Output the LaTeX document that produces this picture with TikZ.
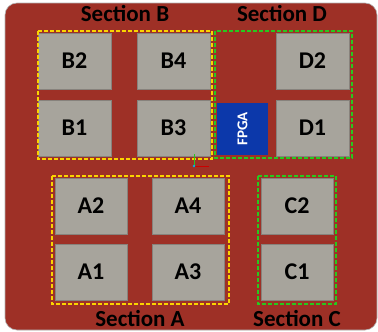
\documentclass[tikz,border=0pt]{standalone}
\usepackage{fontspec}
\setmainfont{Carlito}
\usepackage{tikz}
\usetikzlibrary{arrows.meta,positioning}
\definecolor{RojoPlaca}{RGB}{158,48,38}
\definecolor{GrisTile}{RGB}{167,164,156}
\definecolor{BordeTile}{RGB}{135,130,124}
\definecolor{AzulFPGA}{RGB}{12,56,170}
\definecolor{AmarilloSec}{RGB}{250,212,0}
\definecolor{VerdeSec}{RGB}{40,200,30}

\begin{document}
\begin{tikzpicture}[x=1pt,y=-1pt,
  tile/.style={draw=BordeTile,fill=GrisTile,line width=0.6pt,minimum width=73pt,minimum height=56pt,inner sep=0pt,font=\bfseries\fontsize{24}{24}\selectfont},
  secyellow/.style={draw=AmarilloSec,line width=1.5pt,dash pattern=on 4pt off 2pt},
  secgreen/.style={draw=VerdeSec,line width=1.5pt,dash pattern=on 4pt off 2pt},
  seclabel/.style={anchor=base,inner sep=0pt,font=\bfseries\fontsize{23}{23}\selectfont}]
  \useasboundingbox (0,0) rectangle (378,332);
  % board
  \fill[RojoPlaca,draw=gray!60,line width=0.6pt,rounded corners=12pt] (5,3) rectangle (377,330);
  % tiles, section B and D
  \node[tile] (B2) at (74.5,61) {B2};
  \node[tile] (B4) at (173.5,61) {B4};
  \node[tile] (B1) at (74.5,128) {B1};
  \node[tile] (B3) at (173.5,128) {B3};
  \node[tile] (D2) at (312.5,61) {D2};
  \node[tile] (D1) at (312.5,128) {D1};
  \node[fill=AzulFPGA,minimum width=51pt,minimum height=52pt,inner sep=0pt,text=white,font=\bfseries\fontsize{15}{15}\selectfont] (FPGA) at (242.5,129) {\rotatebox{90}{FPGA}};
  % tiles, section A and C
  \node[tile,minimum width=72pt] (A2) at (91,206) {A2};
  \node[tile,minimum width=72pt] (A4) at (188,206) {A4};
  \node[tile,minimum width=72pt] (A1) at (91,272) {A1};
  \node[tile,minimum width=72pt] (A3) at (188,272) {A3};
  \node[tile,minimum width=72pt] (C2) at (297,206) {C2};
  \node[tile,minimum width=72pt] (C1) at (297,272) {C1};
  % section frames
  \draw[secyellow] (38,31) rectangle (212,159);
  \draw[secgreen] (215,31) rectangle (352,158);
  \draw[secyellow] (52,176) rectangle (229,304);
  \draw[secgreen] (258,176) rectangle (336,304);
  \node[seclabel] (secB) at (125,21) {Section B};
  \node[seclabel] (secD) at (282,21) {Section D};
  \node[seclabel] (secA) at (140,326) {Section A};
  \node[seclabel] (secC) at (297,326) {Section C};
  % axis mark
  \coordinate (orig) at (194,166);
  \draw[VerdeSec,line width=0.4pt] (orig) -- ++(0,-12);
  \draw[red!80!black,line width=0.6pt] (orig) -- ++(15,0);
  \fill[cyan] (orig) circle (1.3pt);
\end{tikzpicture}
\end{document}
